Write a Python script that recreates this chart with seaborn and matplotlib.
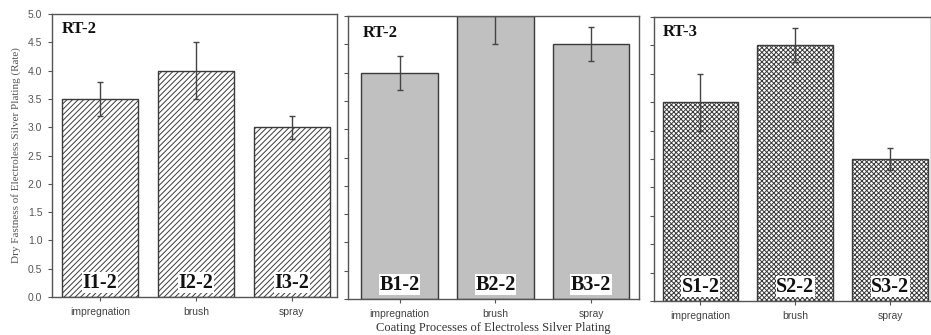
import matplotlib
matplotlib.use("Agg")
import matplotlib.pyplot as plt
import seaborn as sns
import pandas as pd

# ---- data ----
categories = ["impregnation", "brush", "spray"]
panel_titles = ["RT-2", "RT-2", "RT-3"]
impregnation_vals = [3.5, 4.0, 3.0]
impregnation_err = [0.3, 0.5, 0.2]
impregnation_labels = ["I1-2", "I2-2", "I3-2"]
brush_vals = [4.0, 5.0, 4.5]
brush_err = [0.3, 0.5, 0.3]
brush_labels = ["B1-2", "B2-2", "B3-2"]
spray_vals = [3.5, 4.5, 2.5]
spray_err = [0.5, 0.3, 0.2]
spray_labels = ["S1-2", "S2-2", "S3-2"]
yticks = [0.0, 0.5, 1.0, 1.5, 2.0, 2.5, 3.0, 3.5, 4.0, 4.5, 5.0]

sns.set_style("white")
plt.rcParams["hatch.color"] = "#3a3a3a"
plt.rcParams["hatch.linewidth"] = 0.7

W, H = 931, 335
fig = plt.figure(figsize=(W / 100, H / 100), dpi=100)

def px_axes(l, r, t, b):
    return fig.add_axes([l / W, 1 - b / H, (r - l) / W, (b - t) / H])

panels = [
    dict(box=(52, 337, 14, 297), xlim=(-0.5, 2.47), vals=impregnation_vals, err=impregnation_err,
         labels=impregnation_labels, face="white", hatch="//////", title_xy=(0.035, 0.947), ylab=True),
    dict(box=(348, 639, 16, 299), xlim=(-0.54, 2.5), vals=brush_vals, err=brush_err,
         labels=brush_labels, face="#c0c0c0", hatch=None, title_xy=(0.05, 0.94), ylab=False),
    dict(box=(654, 931, 17, 301), xlim=(-0.49, 2.43), vals=spray_vals, err=spray_err,
         labels=spray_labels, face="white", hatch="xxxxxxx", title_xy=(0.03, 0.947), ylab=False),
]

serif = "Liberation Serif"
sans = "Liberation Sans"
axes = []
for i, p in enumerate(panels):
    ax = px_axes(*p["box"])
    axes.append(ax)
    df = pd.DataFrame({"process": categories, "value": p["vals"]})
    sns.barplot(data=df, x="process", y="value", ax=ax, color=p["face"], width=0.8,
                edgecolor="#3a3a3a", linewidth=1.0, errorbar=None, saturation=1)
    for bar in ax.patches:
        bar.set_facecolor(p["face"])
        if p["hatch"]:
            bar.set_hatch(p["hatch"])
    ax.errorbar(range(len(categories)), p["vals"], yerr=p["err"], fmt="none",
                ecolor="#444444", elinewidth=1.0, capsize=2.5, capthick=1.0, clip_on=True)
    for j, lab in enumerate(p["labels"]):
        ax.text(j, 0.25, lab, ha="center", va="center", fontsize=14.5, fontweight="bold",
                family=serif, color="#111111",
                bbox=dict(facecolor="white", edgecolor="none", pad=0.5))
    ax.text(p["title_xy"][0], p["title_xy"][1], panel_titles[i], transform=ax.transAxes,
            ha="left", va="center", fontsize=12, fontweight="bold", family=serif, color="#111111")
    ax.set_ylim(0, 5.0)
    ax.set_xlim(*p["xlim"])
    ax.set_yticks(yticks)
    if p["ylab"]:
        ax.set_yticklabels([f"{v:.1f}" for v in yticks], family=sans, fontsize=7.5, color="#555555")
        ax.set_ylabel("Dry Fastness of Electroless Silver Plating (Rate)", family=serif,
                      fontsize=8, color="#555555", labelpad=5)
    else:
        ax.set_yticklabels([])
        ax.set_ylabel("")
    ax.set_xticks(range(len(categories)))
    ax.set_xticklabels(categories, family=sans, fontsize=7.5, color="#444444")
    ax.set_xlabel("")
    ax.tick_params(axis="both", which="major", direction="out", length=3, width=0.8,
                   color="#555555", left=True, bottom=True, pad=4)
    for s in ax.spines.values():
        s.set_color("#555555")
        s.set_linewidth(1.0)

axes[1].set_xlabel("Coating Processes of Electroless Silver Plating", family=serif,
                   fontsize=9, color="#333333", labelpad=2)

fig.savefig("out.png", dpi=100)
